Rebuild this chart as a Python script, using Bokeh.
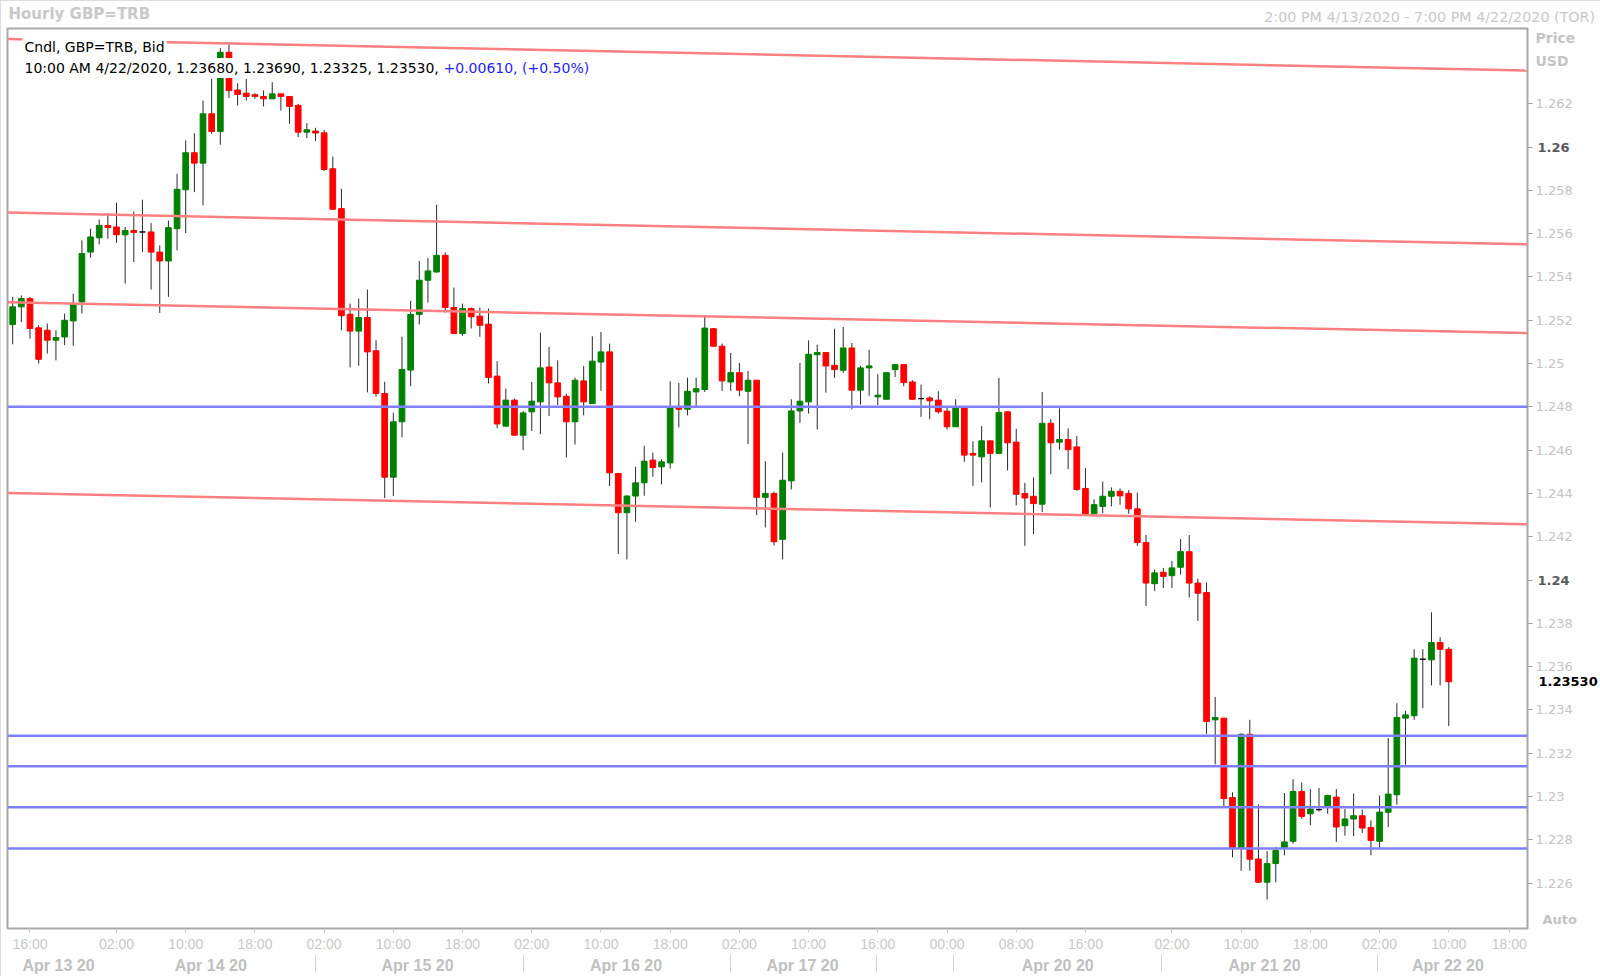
from bokeh.plotting import figure
from bokeh.models import Range1d, LinearAxis, FixedTicker, Label, Span, ColumnDataSource
from bokeh.embed import file_html
from bokeh.resources import INLINE

# ---------------- data (hourly GBP=TRB candles, index = bar number) ----------------
opens = [1.25180, 1.25262, 1.25300, 1.25165, 1.25154, 1.25108, 1.25123, 1.25197, 1.25285, 1.25515,
         1.25581, 1.25638, 1.25631, 1.25595, 1.25615, 1.25608, 1.25608, 1.25515, 1.25474, 1.25623,
         1.25803, 1.25974, 1.25926, 1.26154, 1.26072, 1.26438, 1.26264, 1.26249, 1.26242, 1.26234,
         1.26223, 1.26246, 1.26234, 1.26193, 1.26069, 1.26074, 1.26066, 1.25900, 1.25716, 1.25228,
         1.25150, 1.25213, 1.25059, 1.24862, 1.24475, 1.24731, 1.24970, 1.25227, 1.25385, 1.25423,
         1.25500, 1.25259, 1.25139, 1.25254, 1.25219, 1.25182, 1.24942, 1.24711, 1.24831, 1.24669,
         1.24777, 1.24823, 1.24984, 1.24911, 1.24849, 1.24731, 1.24920, 1.24815, 1.25007, 1.25054,
         1.24492, 1.24311, 1.24388, 1.24449, 1.24554, 1.24523, 1.24541, 1.24800, 1.24789, 1.24869,
         1.24880, 1.25161, 1.25080, 1.24915, 1.24958, 1.24872, 1.24923, 1.24382, 1.24400, 1.24188,
         1.24458, 1.24781, 1.24823, 1.25041, 1.25051, 1.24992, 1.24969, 1.25072, 1.24877, 1.24980,
         1.24846, 1.24835, 1.24972, 1.24995, 1.24915, 1.24838, 1.24841, 1.24831, 1.24780, 1.24708,
         1.24800, 1.24585, 1.24569, 1.24643, 1.24585, 1.24777, 1.24637, 1.24400, 1.24387, 1.24350,
         1.24724, 1.24637, 1.24649, 1.24615, 1.24423, 1.24306, 1.24340, 1.24387, 1.24410, 1.24400,
         1.24329, 1.24173, 1.23983, 1.24036, 1.24020, 1.24059, 1.24131, 1.23986, 1.23942, 1.23354,
         1.23362, 1.22995, 1.22761, 1.23287, 1.22711, 1.22604, 1.22690, 1.22762, 1.22793, 1.23023,
         1.22920, 1.22939, 1.22957, 1.22997, 1.22865, 1.22896, 1.22911, 1.22857, 1.22793, 1.22927,
         1.23008, 1.23362, 1.23373, 1.23634, 1.23631, 1.23711, 1.23680]
highs = [1.25308, 1.25315, 1.25308, 1.25177, 1.25185, 1.25154, 1.25231, 1.25323, 1.25569, 1.25623,
         1.25665, 1.25695, 1.25743, 1.25631, 1.25703, 1.25757, 1.25649, 1.25546, 1.25661, 1.25877,
         1.26031, 1.26064, 1.26215, 1.26315, 1.26458, 1.26474, 1.26295, 1.26315, 1.26249, 1.26262,
         1.26300, 1.26246, 1.26234, 1.26200, 1.26111, 1.26089, 1.26080, 1.25957, 1.25808, 1.25277,
         1.25300, 1.25342, 1.25108, 1.24916, 1.24773, 1.25124, 1.25290, 1.25474, 1.25488, 1.25734,
         1.25513, 1.25351, 1.25277, 1.25259, 1.25259, 1.25254, 1.25011, 1.24885, 1.24838, 1.24780,
         1.24915, 1.25143, 1.25077, 1.25015, 1.24861, 1.24935, 1.24989, 1.25126, 1.25146, 1.25092,
         1.24495, 1.24392, 1.24523, 1.24620, 1.24589, 1.24558, 1.24918, 1.24911, 1.24935, 1.24935,
         1.25215, 1.25164, 1.25092, 1.25049, 1.25003, 1.24966, 1.24923, 1.24549, 1.24408, 1.24589,
         1.24835, 1.25003, 1.25107, 1.25087, 1.25051, 1.25161, 1.25169, 1.25095, 1.24989, 1.25064,
         1.24951, 1.24958, 1.24995, 1.24995, 1.24923, 1.24903, 1.24849, 1.24872, 1.24800, 1.24835,
         1.24800, 1.24641, 1.24711, 1.24643, 1.24934, 1.24777, 1.24699, 1.24449, 1.24474, 1.24868,
         1.24743, 1.24793, 1.24701, 1.24665, 1.24517, 1.24373, 1.24454, 1.24428, 1.24423, 1.24415,
         1.24404, 1.24208, 1.24048, 1.24056, 1.24087, 1.24189, 1.24208, 1.24006, 1.23989, 1.23460,
         1.23362, 1.23019, 1.23292, 1.23354, 1.22963, 1.22747, 1.22767, 1.23016, 1.23080, 1.23065,
         1.23034, 1.23039, 1.23008, 1.23034, 1.22942, 1.23013, 1.22939, 1.22890, 1.23004, 1.23270,
         1.23431, 1.23396, 1.23680, 1.23680, 1.23851, 1.23736, 1.23690]
lows = [1.25089, 1.25192, 1.25115, 1.25000, 1.25046, 1.25015, 1.25085, 1.25082, 1.25231, 1.25489,
        1.25551, 1.25577, 1.25558, 1.25369, 1.25469, 1.25515, 1.25342, 1.25234, 1.25308, 1.25523,
        1.25603, 1.25792, 1.25731, 1.26061, 1.26011, 1.26227, 1.26192, 1.26215, 1.26223, 1.26188,
        1.26223, 1.26169, 1.26108, 1.26046, 1.26042, 1.26028, 1.25890, 1.25713, 1.25154, 1.24982,
        1.24990, 1.24867, 1.24847, 1.24379, 1.24388, 1.24659, 1.24896, 1.25181, 1.25282, 1.25420,
        1.25236, 1.25139, 1.25128, 1.25162, 1.25124, 1.24908, 1.24701, 1.24708, 1.24669, 1.24600,
        1.24688, 1.24674, 1.24758, 1.24808, 1.24566, 1.24626, 1.24761, 1.24815, 1.24874, 1.24434,
        1.24120, 1.24095, 1.24269, 1.24389, 1.24477, 1.24442, 1.24515, 1.24705, 1.24761, 1.24803,
        1.24869, 1.25077, 1.24874, 1.24874, 1.24849, 1.24628, 1.24300, 1.24243, 1.24159, 1.24095,
        1.24418, 1.24726, 1.24769, 1.24695, 1.24866, 1.24934, 1.24957, 1.24788, 1.24811, 1.24851,
        1.24808, 1.24835, 1.24938, 1.24895, 1.24835, 1.24754, 1.24743, 1.24769, 1.24695, 1.24708,
        1.24546, 1.24435, 1.24451, 1.24335, 1.24585, 1.24506, 1.24345, 1.24158, 1.24212, 1.24314,
        1.24488, 1.24602, 1.24512, 1.24412, 1.24306, 1.24306, 1.24309, 1.24340, 1.24348, 1.24306,
        1.24158, 1.23880, 1.23950, 1.23963, 1.23963, 1.24025, 1.23919, 1.23811, 1.23289, 1.23148,
        1.22956, 1.22719, 1.22657, 1.22657, 1.22601, 1.22524, 1.22604, 1.22728, 1.22782, 1.22897,
        1.22867, 1.22931, 1.22920, 1.22790, 1.22819, 1.22816, 1.22831, 1.22728, 1.22762, 1.22859,
        1.22962, 1.23147, 1.23354, 1.23408, 1.23513, 1.23513, 1.23325]
closes = [1.25262, 1.25300, 1.25162, 1.25020, 1.25108, 1.25120, 1.25200, 1.25277, 1.25508, 1.25585,
          1.25638, 1.25628, 1.25595, 1.25615, 1.25606, 1.25608, 1.25515, 1.25474, 1.25628, 1.25805,
          1.25974, 1.25926, 1.26154, 1.26072, 1.26438, 1.26261, 1.26243, 1.26234, 1.26234, 1.26223,
          1.26246, 1.26234, 1.26188, 1.26069, 1.26080, 1.26065, 1.25897, 1.25713, 1.25221, 1.25150,
          1.25213, 1.25054, 1.24862, 1.24475, 1.24731, 1.24973, 1.25227, 1.25385, 1.25428, 1.25500,
          1.25259, 1.25139, 1.25254, 1.25216, 1.25177, 1.24936, 1.24721, 1.24831, 1.24669, 1.24772,
          1.24826, 1.24980, 1.24911, 1.24846, 1.24731, 1.24923, 1.24823, 1.25011, 1.25054, 1.24495,
          1.24311, 1.24388, 1.24449, 1.24549, 1.24520, 1.24546, 1.24800, 1.24789, 1.24872, 1.24884,
          1.25164, 1.25080, 1.24920, 1.24958, 1.24877, 1.24923, 1.24382, 1.24400, 1.24177, 1.24461,
          1.24781, 1.24826, 1.25043, 1.25051, 1.24989, 1.24972, 1.25072, 1.24877, 1.24980, 1.24989,
          1.24854, 1.24958, 1.24995, 1.24912, 1.24835, 1.24838, 1.24828, 1.24777, 1.24708, 1.24800,
          1.24577, 1.24577, 1.24643, 1.24585, 1.24774, 1.24634, 1.24396, 1.24379, 1.24353, 1.24724,
          1.24634, 1.24649, 1.24602, 1.24418, 1.24306, 1.24348, 1.24387, 1.24410, 1.24389, 1.24329,
          1.24173, 1.23986, 1.24033, 1.24017, 1.24056, 1.24131, 1.23986, 1.23939, 1.23346, 1.23365,
          1.22990, 1.22761, 1.23287, 1.22710, 1.22604, 1.22690, 1.22750, 1.22790, 1.23023, 1.22908,
          1.22942, 1.22939, 1.23004, 1.22859, 1.22896, 1.22911, 1.22854, 1.22797, 1.22928, 1.23011,
          1.23365, 1.23377, 1.23639, 1.23634, 1.23711, 1.23680, 1.23530]

support_levels = [1.2480, 1.2328, 1.2314, 1.2295, 1.2276]          # blue horizontal lines
channel_start = [1.26500, 1.25698, 1.25283, 1.24402]              # red channel lines, left end
channel_end = [1.26354, 1.25551, 1.25141, 1.24258]                # red channel lines, right end

price_ticks = [1.226, 1.228, 1.23, 1.232, 1.234, 1.236, 1.238, 1.24, 1.242, 1.244,
               1.246, 1.248, 1.25, 1.252, 1.254, 1.256, 1.258, 1.26, 1.262]
bold_price_ticks = [1.26, 1.24]
time_ticks = [2, 12, 20, 28, 36, 44, 52, 60, 68, 76, 84, 92, 100, 108, 116, 124, 134, 142, 150, 158, 166, 173]
time_labels = ["16:00", "02:00", "10:00", "18:00", "02:00", "10:00", "18:00", "02:00", "10:00", "18:00",
               "02:00", "10:00", "16:00", "00:00", "08:00", "16:00", "02:00", "10:00", "18:00", "02:00",
               "10:00", "18:00"]
date_centers = [5.3, 22.9, 46.8, 70.9, 91.3, 120.8, 144.7, 165.9]
date_labels = ["Apr 13 20", "Apr 14 20", "Apr 15 20", "Apr 16 20", "Apr 17 20", "Apr 20 20", "Apr 21 20", "Apr 22 20"]
day_separators = [35.0, 59.0, 83.0, 99.9, 108.8, 132.8, 157.8]

title_text = "Hourly GBP=TRB"
title_center = 7.7                 # bar-index position of the title's centre
range_text = "2:00 PM 4/13/2020 - 7:00 PM 4/22/2020 (TOR)"
range_center = 163.8               # bar-index position of the range text's centre
series_text = "Cndl, GBP=TRB, Bid"
last_bar_text = "10:00 AM 4/22/2020, 1.23680, 1.23690, 1.23325, 1.23530,"
change_text = "+0.00610, (+0.50%)"
last_price = 1.23530
unit_labels = ["Price", "USD"]
unit_label_prices = [1.26502, 1.26400]
auto_price = 1.22431

# ---------------- figure ----------------
X0, X1 = -0.6, 175.1
Y0, Y1 = 1.22390, 1.26548
FONT = "DejaVu Sans"
FL, FT = 7, 28          # frame left / top in window pixels

p = figure(width=1600, height=976, x_range=Range1d(X0, X1), y_range=Range1d(Y0, Y1),
           output_backend="svg", toolbar_location=None, title=None,
           x_axis_location=None, y_axis_location=None,
           min_border_left=FL, min_border_right=70, min_border_top=FT, min_border_bottom=0,
           background_fill_color="white", border_fill_color="white")
p.styles = {"outline": "1px solid #d2d2d2", "outline-offset": "-1px"}
p.grid.visible = False
p.outline_line_color = "#a8a8a8"
p.outline_line_width = 2

idx = list(range(len(opens)))
colors = []
for o, c in zip(opens, closes):
    colors.append("#008000" if c > o else ("#ff0000" if c < o else "#000000"))
src = ColumnDataSource(dict(x=idx, o=opens, h=highs, l=lows, c=closes,
                            top=[max(o, c) for o, c in zip(opens, closes)],
                            bottom=[min(o, c) for o, c in zip(opens, closes)],
                            color=colors))
p.segment(x0="x", y0="l", x1="x", y1="h", source=src, line_color="#2a2a2a", line_width=1)
p.vbar(x="x", width=0.66, top="top", bottom="bottom", source=src,
       fill_color="color", line_color="color", line_width=1)

# red descending channel lines
p.segment(x0=[X0] * len(channel_start), y0=channel_start, x1=[X1] * len(channel_end), y1=channel_end,
          line_color="#ff8080", line_width=2.5)
# blue horizontal levels
for lvl in support_levels:
    p.add_layout(Span(location=lvl, dimension="width", line_color="#8080ff", line_width=2.5))


# ---------------- axes ----------------
def text_axis(ticks, labels, standoff, color, size, bold=False, font=FONT):
    """An axis without line or tick marks, used only to place texts outside the frame."""
    ax = LinearAxis(ticker=FixedTicker(ticks=ticks), major_label_overrides=dict(zip(ticks, labels)))
    ax.axis_line_color = None
    ax.major_tick_line_color = None
    ax.minor_tick_line_color = None
    ax.major_tick_in = 0
    ax.major_tick_out = 0
    ax.major_label_standoff = standoff
    ax.major_label_text_color = color
    ax.major_label_text_font = font
    ax.major_label_text_font_size = size
    if bold:
        ax.major_label_text_font_style = "bold"
    return ax


# main price axis (bold levels are drawn by a second axis)
yax = LinearAxis(ticker=FixedTicker(ticks=price_ticks),
                 major_label_overrides={t: ("" if t in bold_price_ticks else str(t)) for t in price_ticks})
yax.axis_line_color = None
yax.major_tick_in = 0
yax.major_tick_out = 5
yax.major_tick_line_color = "#a0a0a0"
yax.minor_tick_line_color = None
yax.major_label_standoff = 3
yax.major_label_text_color = "#c4c4c4"
yax.major_label_text_font = FONT
yax.major_label_text_font_size = "13px"
p.add_layout(yax, "right")

# "Price" / "USD" caption
p.add_layout(text_axis(unit_label_prices, unit_labels, -40, "#c4c4c4", "14px", bold=True), "right")
# "Auto" box
auto_ax = text_axis([auto_price], ["Auto"], -36, "#c4c4c4", "13px", bold=True)
p.add_layout(auto_ax, "right")
# last price marker
lp_ax = text_axis([last_price], [f"{last_price:.5f}"], -41, "black", "13px", bold=True)
p.add_layout(lp_ax, "right")
# bold round levels
p.add_layout(text_axis(bold_price_ticks, [str(t) for t in bold_price_ticks], -63, "#5a5a5a", "13px",
                       bold=True), "right")

# time axis
tax = LinearAxis(ticker=FixedTicker(ticks=time_ticks),
                 major_label_overrides=dict(zip(time_ticks, time_labels)))
tax.axis_line_color = None
tax.major_tick_in = 0
tax.major_tick_out = 4
tax.major_tick_line_color = "#c8c8c8"
tax.minor_tick_line_color = None
tax.major_label_standoff = 3
tax.major_label_text_color = "#c8c8c8"
tax.major_label_text_font = "Liberation Sans"
tax.major_label_text_font_size = "14px"
p.add_layout(tax, "below")

# date axis with day separators
dax = LinearAxis(ticker=FixedTicker(ticks=date_centers, minor_ticks=day_separators),
                 major_label_overrides=dict(zip(date_centers, date_labels)))
dax.axis_line_color = None
dax.major_tick_line_color = None
dax.major_tick_in = 0
dax.major_tick_out = 0
dax.minor_tick_in = 0
dax.minor_tick_out = 18
dax.minor_tick_line_color = "#d4d4d4"
dax.major_label_standoff = -16
dax.major_label_text_color = "#c0c0c0"
dax.major_label_text_font = "Liberation Sans"
dax.major_label_text_font_style = "bold"
dax.major_label_text_font_size = "16px"
p.add_layout(dax, "below")

# header line above the frame
p.add_layout(text_axis([range_center], [range_text], 4, "#c8c8c8", "14.3px"), "above")
p.add_layout(text_axis([title_center], [title_text], -17, "#c8c8c8", "15px", bold=True), "above")


# ---------------- texts inside the frame ----------------
def frame_label(text, px, py, **kw):
    """px, py: position in window pixels (frame top-left is at FL, FT)."""
    return Label(x=X0, y=Y1, x_offset=px - FL, y_offset=FT - py, text=text,
                 text_baseline="middle", text_font=FONT, text_font_size="14px",
                 background_fill_color="white", padding=2, **kw)


p.add_layout(frame_label(series_text, 22, 46.5, text_color="black"))
p.add_layout(frame_label(last_bar_text, 22, 67.5, text_color="black"))
p.add_layout(frame_label(change_text, 441, 67.5, text_color="#2424ff"))

open("out.html", "w").write(file_html(p, INLINE))
